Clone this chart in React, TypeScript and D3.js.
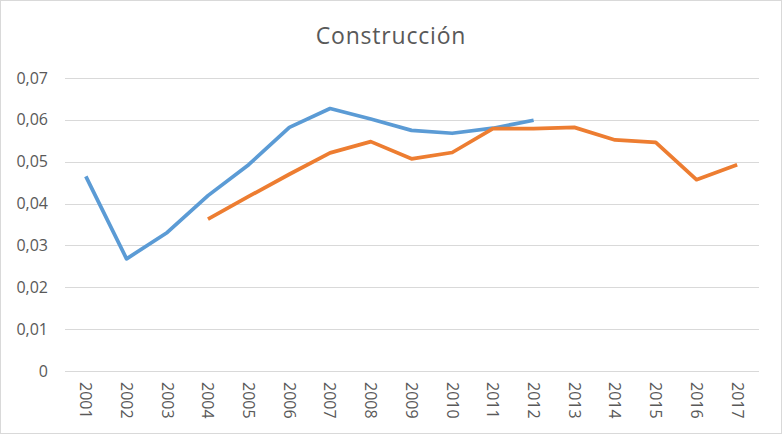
import React, { useEffect, useRef } from 'react';
import * as d3 from 'd3';

const years = ['2001', '2002', '2003', '2004', '2005', '2006', '2007', '2008', '2009', '2010', '2011', '2012', '2013', '2014', '2015', '2016', '2017'];

// first series (blue) runs 2001-2012, second (orange) 2004-2017
const blueValues: (number | null)[] = [0.0465, 0.0268, 0.0331, 0.0419, 0.0493, 0.0582, 0.0627, 0.0602, 0.0575, 0.0568, 0.058, 0.0599, null, null, null, null, null];
const orangeValues: (number | null)[] = [null, null, null, 0.0363, 0.0417, 0.047, 0.0521, 0.0548, 0.0507, 0.0522, 0.0579, 0.0579, 0.0582, 0.0552, 0.0546, 0.0457, 0.0493];

const yTicks = [0, 0.01, 0.02, 0.03, 0.04, 0.05, 0.06, 0.07];

const W = 782;
const H = 434;

const App: React.FC = () => {
  const ref = useRef<SVGSVGElement>(null);

  useEffect(() => {
    const svg = d3.select(ref.current);
    svg.selectAll('*').remove();

    const font = "'Open Sans', 'Liberation Sans', sans-serif";

    svg.append('rect')
      .attr('x', 0.5).attr('y', 0.5)
      .attr('width', W - 1).attr('height', H - 1)
      .attr('fill', '#fff').attr('stroke', '#d9d9d9');

    const x = d3.scaleBand().domain(years).range([65.5, 757.5]);
    const y = d3.scaleLinear().domain([0, 0.07]).range([371, 78]);

    // gridlines
    svg.append('g')
      .selectAll('line')
      .data(yTicks)
      .enter()
      .append('line')
      .attr('x1', 65).attr('x2', 759)
      .attr('y1', (d) => Math.round(y(d)) + 0.5)
      .attr('y2', (d) => Math.round(y(d)) + 0.5)
      .attr('stroke', '#d9d9d9')
      .attr('stroke-width', 1);

    // y labels
    svg.append('g')
      .selectAll('text')
      .data(yTicks)
      .enter()
      .append('text')
      .attr('x', 48)
      .attr('y', (d) => y(d))
      .attr('dy', '0.35em')
      .attr('text-anchor', 'end')
      .attr('font-family', font)
      .attr('font-size', 16)
      .attr('fill', '#595959')
      .text((d) => (d === 0 ? '0' : d3.format('.2f')(d).replace('.', ',')));

    // x labels, rotated
    svg.append('g')
      .selectAll('text')
      .data(years)
      .enter()
      .append('text')
      .attr('transform', (d) => `translate(${x(d)! + x.bandwidth() / 2},382) rotate(90)`)
      .attr('dy', '0.35em')
      .attr('text-anchor', 'start')
      .attr('font-family', font)
      .attr('font-size', 16)
      .attr('fill', '#595959')
      .text((d) => d);

    const line = d3.line<number | null>()
      .defined((d) => d !== null)
      .x((_, i) => x(years[i])! + x.bandwidth() / 2)
      .y((d) => y(d as number));

    svg.append('path')
      .datum(blueValues)
      .attr('d', line)
      .attr('fill', 'none')
      .attr('stroke', '#5b9bd5')
      .attr('stroke-width', 3.75)
      .attr('stroke-linejoin', 'round');

    svg.append('path')
      .datum(orangeValues)
      .attr('d', line)
      .attr('fill', 'none')
      .attr('stroke', '#ed7d31')
      .attr('stroke-width', 3.75)
      .attr('stroke-linejoin', 'round');

    svg.append('text')
      .attr('x', 391)
      .attr('y', 44)
      .attr('text-anchor', 'middle')
      .attr('font-family', font)
      .attr('font-size', 23)
      .attr('letter-spacing', 0.8)
      .attr('fill', '#595959')
      .text('Construcción');
  }, []);

  return (
    <svg ref={ref} width={W} height={H} style={{ position: 'absolute', left: 0, top: 0 }} />
  );
};

export default App;
